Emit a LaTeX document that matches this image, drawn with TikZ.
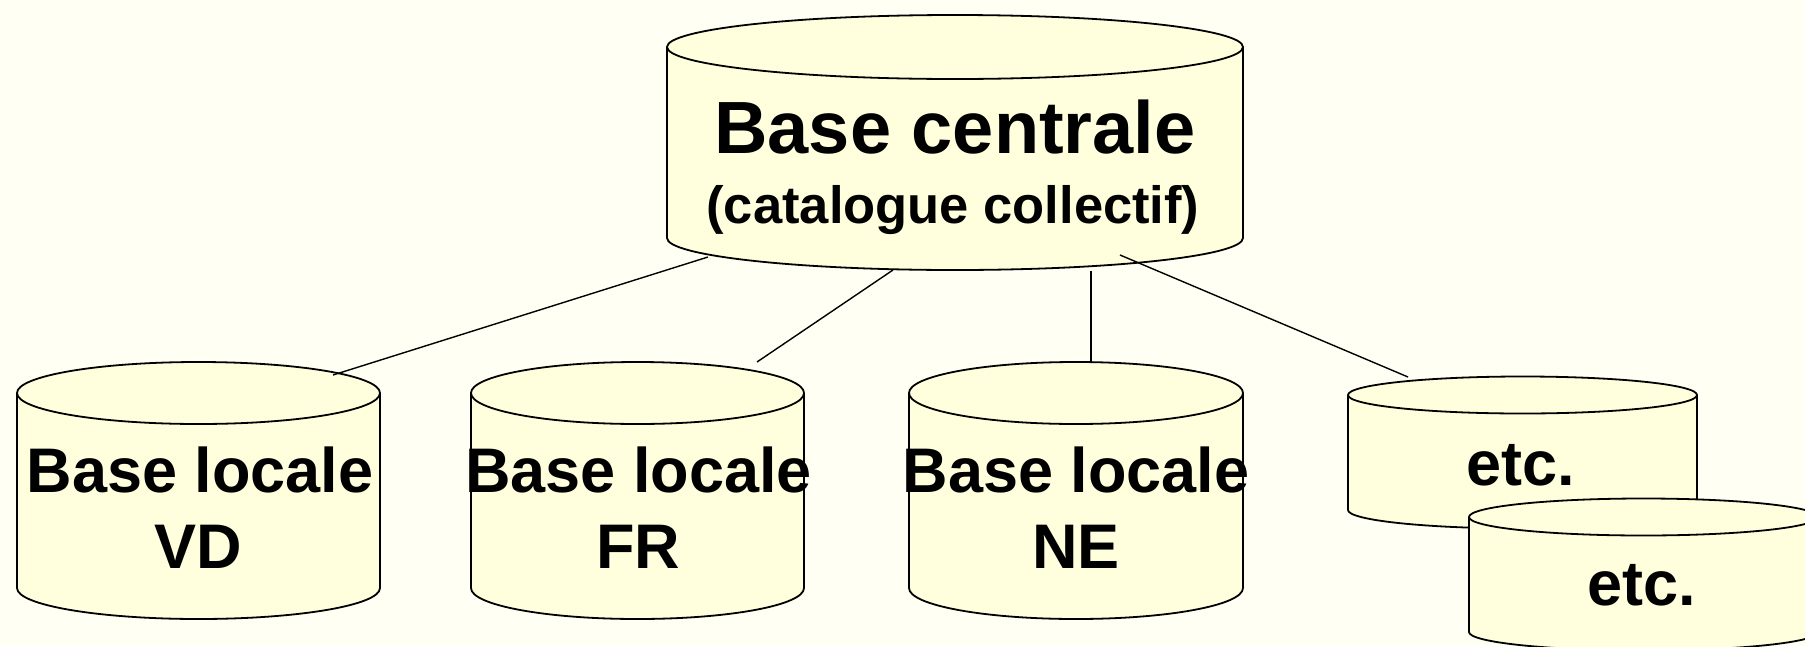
\documentclass[tikz,border=0pt]{standalone}
\usepackage{fontspec}
\setmainfont{Liberation Sans}
\definecolor{bgcol}{RGB}{255,255,244}
\definecolor{cylcol}{RGB}{255,255,221}
\tikzset{
  cylfill/.style={fill=cylcol, draw=black, line width=1.8pt, line join=round},
  cylline/.style={draw=black, line width=1.8pt},
  link/.style={draw=black, line width=1.4pt},
  bigtxt/.style={anchor=base, inner sep=0pt, font=\fontsize{74}{80}\selectfont\bfseries},
  midtxt/.style={anchor=base, inner sep=0pt, font=\fontsize{52.5}{58}\selectfont\bfseries},
  loctxt/.style={anchor=base, inner sep=0pt, font=\fontsize{63}{70}\selectfont\bfseries},
}
% cx, top centre y, bottom centre y, rx, ry (pixel units, y downwards)
\newcommand\dbcyl[5]{%
  \filldraw[cylfill] ({#1-#4},{-#2}) -- ({#1-#4},{-#3})
    arc[start angle=180,end angle=360,x radius=#4,y radius=#5]
    -- ({#1+#4},{-#2})
    arc[start angle=0,end angle=180,x radius=#4,y radius=#5] -- cycle;
  \draw[cylline] ({#1-#4},{-#2})
    arc[start angle=180,end angle=360,x radius=#4,y radius=#5];
}
\begin{document}
\begin{tikzpicture}[x=1pt,y=1pt]
\fill[bgcol] (0,0) rectangle (1805,-646);
\useasboundingbox (0,0) rectangle (1805,-646);
\clip (0,0) rectangle (1805,-646);

% cylinders
\dbcyl{955}{47}{238}{288}{32}
\dbcyl{198.5}{393}{588}{181.5}{31}
\dbcyl{637.5}{393}{588}{166.5}{31}
\dbcyl{1076}{393}{588}{167}{31}
\dbcyl{1522.5}{395}{510}{174.5}{18.5}
\dbcyl{1643.5}{517}{632}{174.5}{18.5}

% texts
\node[bigtxt] (central) at (955,-153) {Base centrale};
\node[midtxt] (centralsub) at (953,-223) {(catalogue collectif)};
\node[loctxt] (vd) at (200,-492) {Base locale};
\node[loctxt] (vdcode) at (198,-568) {VD};
\node[loctxt] (fr) at (638.5,-492) {Base locale};
\node[loctxt] (frcode) at (638,-568) {FR};
\node[loctxt] (ne) at (1076,-492) {Base locale};
\node[loctxt] (necode) at (1076,-568) {NE};
\node[loctxt] (etcA) at (1521,-485) {etc.};
\node[loctxt] (etcB) at (1641.5,-605) {etc.};

% connector end points
\coordinate (c1a) at (708,-257);
\coordinate (c1b) at (333,-375);
\coordinate (c2a) at (893,-270);
\coordinate (c2b) at (757,-362);
\coordinate (c3a) at (1091,-271);
\coordinate (c3b) at (1091,-362);
\coordinate (c4a) at (1120,-255);
\coordinate (c4b) at (1408,-377);

\draw[link] (c1a) -- (c1b);
\draw[link] (c2a) -- (c2b);
\draw[link] (c3a) -- (c3b);
\draw[link] (c4a) -- (c4b);
\end{tikzpicture}
\end{document}
